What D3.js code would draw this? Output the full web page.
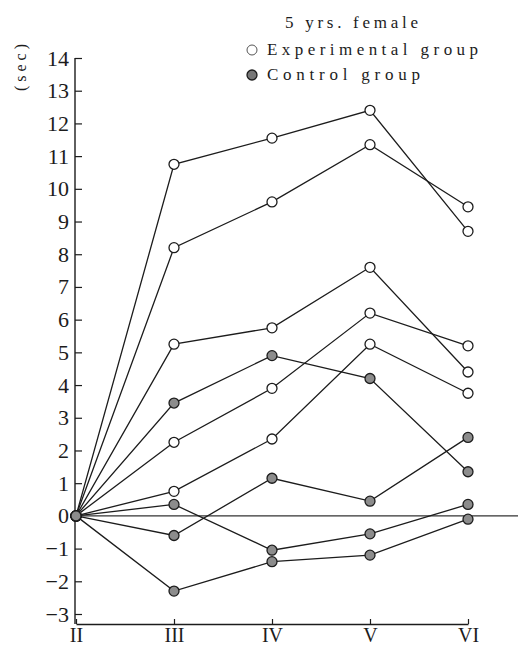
<!DOCTYPE html>
<html>
<head>
<meta charset="utf-8">
<script src="https://cdn.jsdelivr.net/npm/d3@7"></script>
<style>
  body { margin: 0; background: #fff; }
  svg { display: block; }
  svg text { font-family: "Liberation Serif", "DejaVu Serif", serif !important; }
</style>
</head>
<body>
<div class="gv-chart"></div>
<script>
// sessions (roman numerals on the x axis)
var sessions = ["II", "III", "IV", "V", "VI"];

// experimental group, one array per child (sec)
var expSeries = [
  [0, 10.75, 11.55, 12.4, 8.7],
  [0, 8.2, 9.6, 11.35, 9.45],
  [0, 5.25, 5.75, 7.6, 4.4],
  [0, 2.25, 3.9, 6.2, 5.2],
  [0, 0.75, 2.35, 5.25, 3.75]
];

// control group
var ctrlSeries = [
  [0, 3.45, 4.9, 4.2, 1.35],
  [0, -0.6, 1.15, 0.45, 2.4],
  [0, 0.35, -1.05, -0.55, 0.35],
  [0, -2.3, -1.4, -1.2, -0.1]
];

var yTicks = [-3, -2, -1, 0, 1, 2, 3, 4, 5, 6, 7, 8, 9, 10, 11, 12, 13, 14];

var W = 518, H = 648;
var axisX = 75, axisBottom = 624;

var svg = d3.select(".gv-chart").append("svg").attr("width", W).attr("height", H);

var x = d3.scalePoint().domain(sessions).range([76, 468]);
var y = d3.scaleLinear().domain([-3, 14]).range([614, 58]);

var ink = "#1c1c1c";

// y axis
var gy = svg.append("g")
    .attr("transform", "translate(" + axisX + ",0)")
    .call(d3.axisLeft(y).tickValues(yTicks).tickSize(-7).tickSizeOuter(0).tickPadding(6)
      .tickFormat(function(d) { return d < 0 ? "\u2212" + Math.abs(d) : d; }));
gy.select(".domain").remove();
gy.selectAll(".tick line").attr("stroke", ink).attr("stroke-width", 1.2);
gy.selectAll(".tick text").attr("font-size", 22).attr("fill", ink);

svg.append("line")
    .attr("x1", axisX).attr("x2", axisX)
    .attr("y1", y(14)).attr("y2", axisBottom)
    .attr("stroke", ink).attr("stroke-width", 1.4);

// x axis
var gx = svg.append("g")
    .attr("transform", "translate(0," + axisBottom + ")")
    .call(d3.axisBottom(x).tickSize(-5).tickSizeOuter(0).tickPadding(4));
gx.select(".domain").attr("stroke", ink).attr("stroke-width", 1.4);
gx.selectAll(".tick line").attr("stroke", ink).attr("stroke-width", 1.2);
gx.selectAll(".tick text").attr("font-size", 20).attr("fill", ink);

// zero line
svg.append("line")
    .attr("x1", axisX).attr("x2", W)
    .attr("y1", y(0)).attr("y2", y(0))
    .attr("stroke", "#333").attr("stroke-width", 1.1);

// y label
svg.append("text")
    .attr("transform", "translate(26,91) rotate(-90)")
    .attr("font-size", 16)
    .attr("fill", ink)
    .attr("textLength", 47).attr("lengthAdjust", "spacing")
    .text("(sec)");

var lineFn = d3.line()
    .x(function(d, i) { return x(sessions[i]); })
    .y(function(d) { return y(d); });

var all = expSeries.map(function(s) { return {vals: s, ctrl: false}; })
    .concat(ctrlSeries.map(function(s) { return {vals: s, ctrl: true}; }));

svg.append("g").selectAll("path")
    .data(all)
    .enter().append("path")
    .attr("d", function(d) { return lineFn(d.vals); })
    .attr("fill", "none")
    .attr("stroke", ink)
    .attr("stroke-width", 1.3);

var pts = svg.append("g").selectAll("g")
    .data(all)
    .enter().append("g");

pts.selectAll("circle")
    .data(function(d) { return d.vals.map(function(v, i) { return {v: v, i: i, ctrl: d.ctrl}; }); })
    .enter().append("circle")
    .attr("cx", function(d) { return x(sessions[d.i]); })
    .attr("cy", function(d) { return y(d.v); })
    .attr("r", 5)
    .attr("fill", function(d) { return d.ctrl ? "#8c8c8c" : "#fff"; })
    .attr("stroke", ink)
    .attr("stroke-width", 1.3);

// legend
svg.append("text").attr("x", 285).attr("y", 28).attr("fill", ink)
    .attr("font-size", 17).attr("textLength", 133).attr("lengthAdjust", "spacing")
    .text("5 yrs. female");

svg.append("circle").attr("cx", 252).attr("cy", 50).attr("r", 5)
    .attr("fill", "#fff").attr("stroke", "#555").attr("stroke-width", 1);
svg.append("text").attr("x", 267).attr("y", 55).attr("fill", ink)
    .attr("font-size", 17).attr("textLength", 211).attr("lengthAdjust", "spacing")
    .text("Experimental group");

svg.append("circle").attr("cx", 252).attr("cy", 75).attr("r", 5)
    .attr("fill", "#777").attr("stroke", ink).attr("stroke-width", 1.3);
svg.append("text").attr("x", 267).attr("y", 80).attr("fill", ink)
    .attr("font-size", 17).attr("textLength", 153).attr("lengthAdjust", "spacing")
    .text("Control group");
</script>
</body>
</html>
